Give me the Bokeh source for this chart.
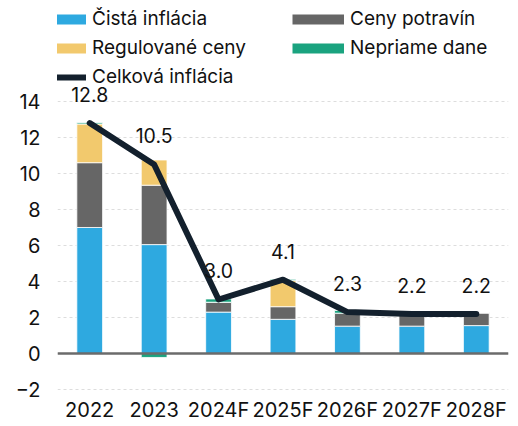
from bokeh.plotting import figure
from bokeh.models import ColumnDataSource, FixedTicker, Span, Legend, LegendItem, Range1d
from bokeh.core.properties import value
from bokeh.embed import file_html
from bokeh.resources import INLINE

years = ["2022", "2023", "2024F", "2025F", "2026F", "2027F", "2028F"]
core = [7.0, 6.05, 2.3, 1.9, 1.52, 1.52, 1.55]          # Čistá inflácia
food = [3.6, 3.3, 0.55, 0.7, 0.72, 0.6, 0.71]           # Ceny potravín
regulated = [2.15, 1.4, 0.0, 1.45, -0.05, -0.05, 0.0]   # Regulované ceny
indirect = [0.07, -0.22, 0.18, 0.07, 0.15, 0.0, 0.0]    # Nepriame dane
total = [12.8, 10.5, 3.0, 4.1, 2.3, 2.2, 2.2]           # Celková inflácia
total_labels = ["12.8", "10.5", "3.0", "4.1", "2.3", "2.2", "2.2"]
y_ticks = [-2, 0, 2, 4, 6, 8, 10, 12, 14]

series = [
    ("Čistá inflácia", core, "#2ea9e0"),
    ("Ceny potravín", food, "#666666"),
    ("Regulované ceny", regulated, "#f2c96d"),
    ("Nepriame dane", indirect, "#1aa37f"),
]

FONT = "Inter"
BORDER_B = 33
FRAME_H = 426 - BORDER_B

p = figure(x_range=years, y_range=Range1d(-2.222, 19.61), width=518, height=426,
           output_backend="svg", toolbar_location=None,
           min_border_left=57, min_border_right=10, min_border_top=0,
           min_border_bottom=BORDER_B)
p.x_range.range_padding = 0
p.outline_line_color = None
p.background_fill_color = "white"

# stacked bars (positives up, negatives down)
pos = [0.0] * len(years)
neg = [0.0] * len(years)
proxies = {}
for name, vals, color in series:
    bottoms, tops = [], []
    for i, v in enumerate(vals):
        if v >= 0:
            bottoms.append(pos[i]); tops.append(pos[i] + v); pos[i] += v
        else:
            bottoms.append(neg[i]); tops.append(neg[i] + v); neg[i] += v
    src = ColumnDataSource(dict(x=years, bottom=bottoms, top=tops))
    p.vbar(x="x", bottom="bottom", top="top", width=0.4, source=src,
           fill_color=color, line_color="white", line_width=0.8)
    # legend-only swatch (thick line, nothing drawn in the plot)
    proxies[name] = p.line(x=[years[0]], y=[float("nan")], line_width=10,
                           line_color=color, line_cap="butt")

zero = Span(location=0, dimension="width", line_color="#6b6b6b", line_width=2.5)
p.add_layout(zero)

line_src = ColumnDataSource(dict(x=years, y=total, lab=total_labels))
total_line = p.line(x="x", y="y", source=line_src, line_width=6, line_color="#13202d",
                    line_join="round", line_cap="round")
p.text(x="x", y="y", text="lab", source=line_src, text_align="center",
       text_baseline="bottom", y_offset=-21, text_font=value(FONT),
       text_font_size="19.5px", text_color="#111111")

# axes
p.yaxis.ticker = FixedTicker(ticks=y_ticks)
p.ygrid.ticker = FixedTicker(ticks=y_ticks)
p.ygrid.grid_line_color = "#dddddd"
p.ygrid.grid_line_dash = "3 3"
p.xgrid.grid_line_color = None
for ax in (p.xaxis, p.yaxis):
    ax.axis_line_color = None
    ax.major_tick_line_color = None
    ax.minor_tick_line_color = None
    ax.major_label_text_font = FONT
    ax.major_label_text_font_size = "20px"
    ax.major_label_text_color = "#111111"
p.yaxis.major_tick_out = 0
p.yaxis.major_label_standoff = 17
p.xaxis.major_tick_out = 0
p.xaxis.major_tick_in = 0
p.xaxis.major_label_standoff = 4

def mk_legend(items, loc):
    return Legend(items=items, location=loc, padding=0, margin=0, spacing=6,
                  glyph_height=20, glyph_width=52, label_height=20, label_standoff=6,
                  border_line_color=None, background_fill_alpha=0,
                  label_text_font=FONT, label_text_font_size="19px",
                  label_text_color="#111111")

leg1 = mk_legend([
    LegendItem(label="Čistá inflácia", renderers=[proxies["Čistá inflácia"]]),
    LegendItem(label="Regulované ceny", renderers=[proxies["Regulované ceny"]]),
    LegendItem(label="Celková inflácia", renderers=[total_line]),
], (-23, FRAME_H - 88))
leg2 = mk_legend([
    LegendItem(label="Ceny potravín", renderers=[proxies["Ceny potravín"]]),
    LegendItem(label="Nepriame dane", renderers=[proxies["Nepriame dane"]]),
], (235, FRAME_H - 59))
p.add_layout(leg1)
p.add_layout(leg2)

open("out.html", "w").write(file_html(p, INLINE))
